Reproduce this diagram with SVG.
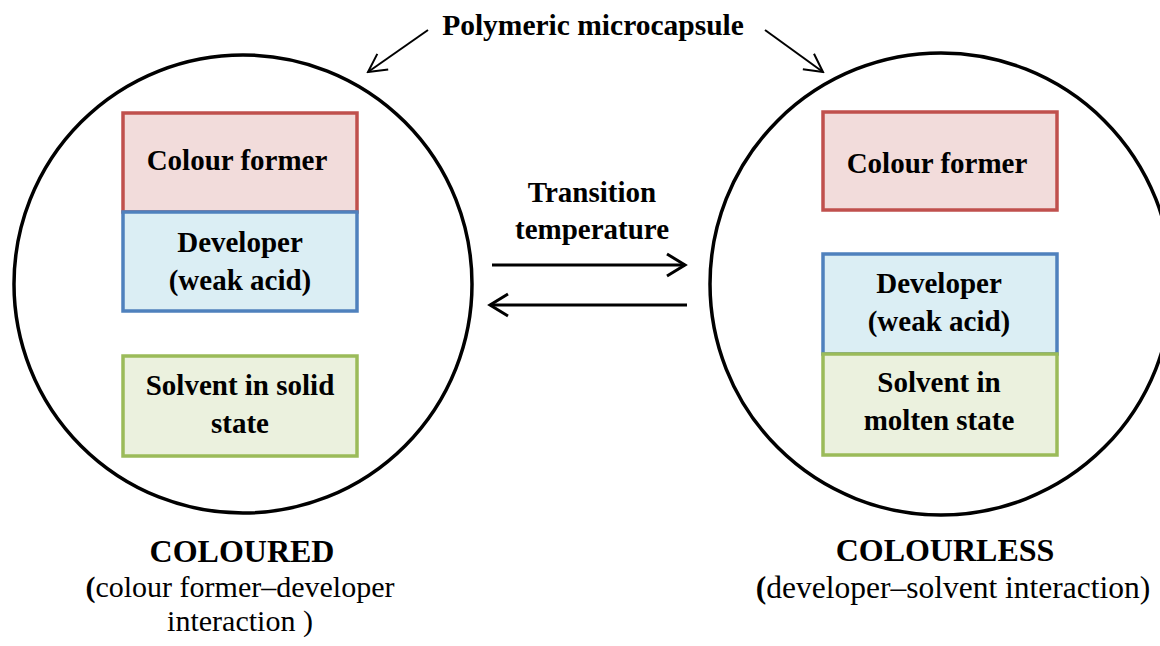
<svg xmlns="http://www.w3.org/2000/svg" width="1160" height="646" viewBox="0 0 1160 646">
  <style>
    .capsule { fill: none; stroke: #000; stroke-width: 3.5; }
    text { font-family: 'Liberation Serif', 'Times New Roman', serif; fill: #000; text-anchor: middle; }
    .lbl { font-weight: bold; font-size: 29px; }
    .title { font-weight: bold; font-size: 29.5px; }
    .head { font-weight: bold; font-size: 32px; }
    .cap { font-size: 30px; }
    .capb { font-weight: bold; }
    .red { fill: #F2DCDB; stroke: #C0504D; stroke-width: 3.5; }
    .blue { fill: #DBEEF4; stroke: #4F81BD; stroke-width: 3.5; }
    .green { fill: #EBF1DE; stroke: #9BBB59; stroke-width: 3.5; }
    .conn { fill: none; stroke: #000; }
  </style>
  <defs>
    <marker id="head" viewBox="-20 -13 23 26" refX="0" refY="0" markerWidth="23" markerHeight="26" markerUnits="userSpaceOnUse" orient="auto">
      <path d="M-18,-11 L0,0 L-18,11" fill="none" stroke="#000" stroke-width="3"/>
    </marker>
    <marker id="headThin" viewBox="-20 -12 22 24" refX="0" refY="0" markerWidth="22" markerHeight="24" markerUnits="userSpaceOnUse" orient="auto">
      <path d="M-18,-9.5 L0,0 L-18,9.5" fill="none" stroke="#000" stroke-width="2"/>
    </marker>
  </defs>
  <rect width="1160" height="646" fill="#fff"/>

  <!-- capsule outlines -->
  <g id="capsule-left">
    <circle class="capsule" cx="243" cy="284" r="229"/>
  </g>
  <g id="capsule-right">
    <circle class="capsule" cx="941" cy="284" r="231"/>
  </g>

  <!-- coloured state contents -->
  <g id="left-colour-former">
    <rect class="red" x="123" y="113" width="234" height="99"/>
    <text class="lbl" x="237" y="170">Colour former</text>
  </g>
  <g id="left-developer">
    <rect class="blue" x="123" y="212" width="234" height="99"/>
    <text class="lbl" x="240" y="252">Developer</text>
    <text class="lbl" x="240" y="290">(weak acid)</text>
  </g>
  <g id="left-solvent">
    <rect class="green" x="123" y="356" width="234" height="100"/>
    <text class="lbl" x="240" y="395">Solvent in solid</text>
    <text class="lbl" x="240" y="433">state</text>
  </g>

  <!-- colourless state contents -->
  <g id="right-colour-former">
    <rect class="red" x="823" y="112" width="234" height="98"/>
    <text class="lbl" x="937" y="173">Colour former</text>
  </g>
  <g id="right-developer">
    <rect class="blue" x="823" y="254" width="234" height="100"/>
    <text class="lbl" x="939" y="293">Developer</text>
    <text class="lbl" x="939" y="331">(weak acid)</text>
  </g>
  <g id="right-solvent">
    <rect class="green" x="823" y="354" width="234" height="101"/>
    <text class="lbl" x="939" y="392">Solvent in</text>
    <text class="lbl" x="939" y="430">molten state</text>
  </g>

  <!-- headings and captions -->
  <g id="title">
    <text class="title" x="593" y="35">Polymeric microcapsule</text>
  </g>
  <g id="transition">
    <text class="lbl" x="592" y="202">Transition</text>
    <text class="lbl" x="592" y="239">temperature</text>
  </g>
  <g id="caption-left">
    <text class="head" x="242" y="562">COLOURED</text>
    <text class="cap" x="240" y="597"><tspan class="capb">(</tspan>colour former–developer</text>
    <text class="cap" x="240" y="631">interaction )</text>
  </g>
  <g id="caption-right">
    <text class="head" x="945" y="561">COLOURLESS</text>
    <text class="cap" x="953" y="598" style="font-size:31.5px"><tspan class="capb">(</tspan>developer–solvent interaction)</text>
  </g>

  <!-- connectors -->
  <g id="connectors">
    <line class="conn" x1="428" y1="30" x2="368" y2="72" stroke-width="2" marker-end="url(#headThin)"/>
    <line class="conn" x1="765" y1="30" x2="823" y2="72" stroke-width="2" marker-end="url(#headThin)"/>
    <line class="conn" x1="492" y1="265" x2="685" y2="265" stroke-width="3" marker-end="url(#head)"/>
    <line class="conn" x1="687" y1="305" x2="490" y2="305" stroke-width="3" marker-end="url(#head)"/>
  </g>
</svg>
